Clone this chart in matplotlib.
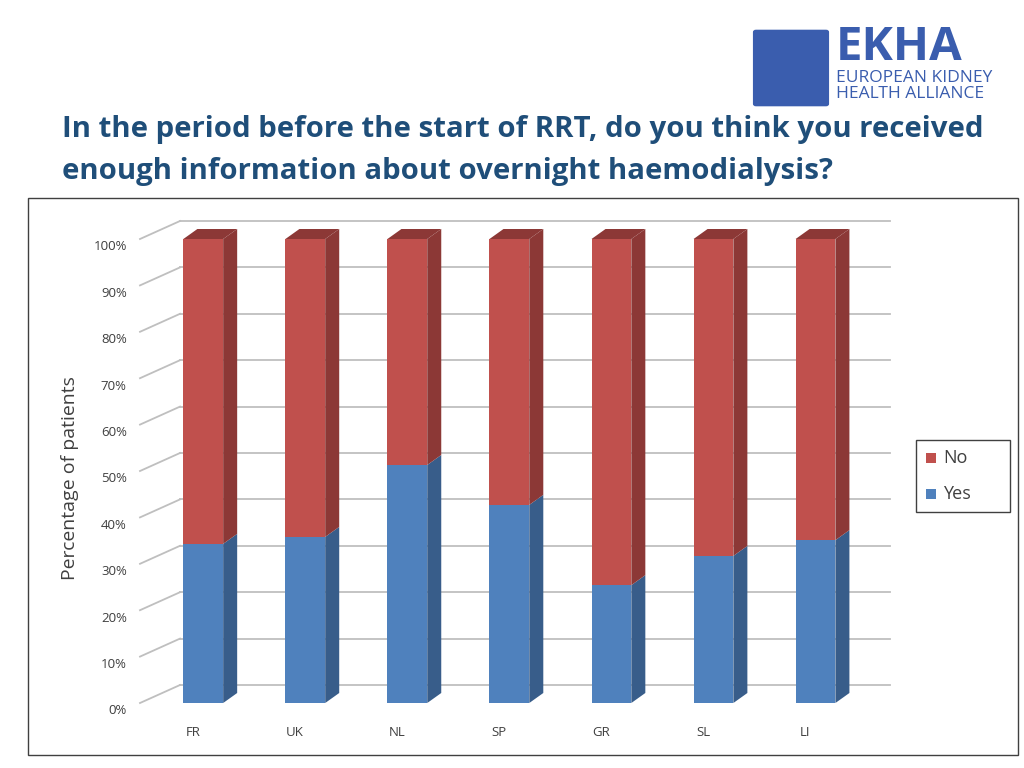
import matplotlib
matplotlib.use("Agg")
import matplotlib.pyplot as plt
from matplotlib.patches import Polygon, Rectangle, FancyBboxPatch

categories = ["FR", "UK", "NL", "SP", "GR", "SL", "LI"]
yes = [0.343, 0.358, 0.513, 0.427, 0.254, 0.317, 0.351]
no = [1 - v for v in yes]
yticks = [0, 0.1, 0.2, 0.3, 0.4, 0.5, 0.6, 0.7, 0.8, 0.9, 1.0]
ylabels = ["0%", "10%", "20%", "30%", "40%", "50%", "60%", "70%", "80%", "90%", "100%"]

W, H = 1024, 768
fig = plt.figure(figsize=(10.24, 7.68), dpi=100)
fig.patch.set_facecolor("white")
font = "Open Sans"

fig.add_artist(Rectangle((28/W, 1-755/H), (1018-28)/W, (755-198)/H, transform=fig.transFigure,
                         fill=False, ec="#404040", lw=1))

ax = fig.add_axes([140/W, 1-703/H, (890-140)/W, (703-239)/H])
ax.set_xlim(-0.62, 6.73)
ax.set_ylim(0, 1)
ax.axis("off")

pxx = 1/102.0
pxy = 1/464.0
wdx, wdy = 40*pxx, 18*pxy
bdx, bdy = 14*pxx, 10*pxy
x0 = -0.62
x1 = 6.73
for t, lab in zip(yticks, ylabels):
    ax.plot([x0 + wdx, x1], [t + wdy, t + wdy], color="#BFBFBF", lw=1.3, clip_on=False, zorder=0)
    ax.plot([x0, x0 + wdx], [t, t + wdy], color="#BFBFBF", lw=1.3, clip_on=False, zorder=0)
    ax.text(x0 - 0.13, t - 8*pxy, lab, ha="right", va="center", fontsize=9.5, color="#404040", family=font)

w = 0.39
blue, blue_s = "#4F81BD", "#385D8A"
red, red_s = "#C0504D", "#8C3836"
for i, (c, y1, y2) in enumerate(zip(categories, yes, no)):
    l, r = i - w/2, i + w/2
    for b, h, fc, sc in [(0, y1, blue, blue_s), (y1, y2, red, red_s)]:
        ax.add_patch(Polygon([(r, b), (r + bdx, b + bdy), (r + bdx, b + h + bdy), (r, b + h)],
                             closed=True, fc=sc, ec="none", zorder=2, clip_on=False))
        ax.bar(i, h, bottom=b, width=w, color=fc, zorder=3)
    top = y1 + y2
    ax.add_patch(Polygon([(l, top), (l + bdx, top + bdy), (r + bdx, top + bdy), (r, top)],
                         closed=True, fc=red_s, ec="none", zorder=3, clip_on=False))
    ax.text(i - 0.1, -30*pxy, c, ha="center", va="center", fontsize=9.5, color="#404040", family=font)

fig.text(70/W, 1-478/H, "Percentage of patients", rotation=90, ha="center", va="center",
         fontsize=14, color="#404040", family=font)

fig.add_artist(Rectangle((916/W, 1-512/H), 94/W, 72/H, transform=fig.transFigure,
                         fill=False, ec="#404040", lw=1))
for yy, lab, col in [(458, "No", red), (494, "Yes", blue)]:
    fig.add_artist(Rectangle((926/W, 1-(yy+5)/H), 10/W, 10/H, transform=fig.transFigure, fc=col, ec="none"))
    fig.text(943/W, 1-yy/H, lab, ha="left", va="center", fontsize=13, color="#404040", family=font)

fig.text(62/W, 1-130/H, "In the period before the start of RRT, do you think you received",
         fontsize=21.2, fontweight="bold", color="#1F4E79", family=font, va="center")
fig.text(62/W, 1-172/H, "enough information about overnight haemodialysis?",
         fontsize=21.2, fontweight="bold", color="#1F4E79", family=font, va="center")

fig.add_artist(FancyBboxPatch((756/W, 1-104/H), 70/W, 72/H, boxstyle="round,pad=0.003",
                              transform=fig.transFigure, fc="#3A5DAE", ec="none"))
fig.text(836/W, 1-48/H, "EKHA", fontsize=34, fontweight="bold", color="#3A5DAE", family=font, va="center")
fig.text(836/W, 1-86/H, "EUROPEAN KIDNEY\nHEALTH ALLIANCE", fontsize=12.5, color="#3A5DAE",
         family=font, va="center", linespacing=0.95)

fig.savefig("out.png", dpi=100)
